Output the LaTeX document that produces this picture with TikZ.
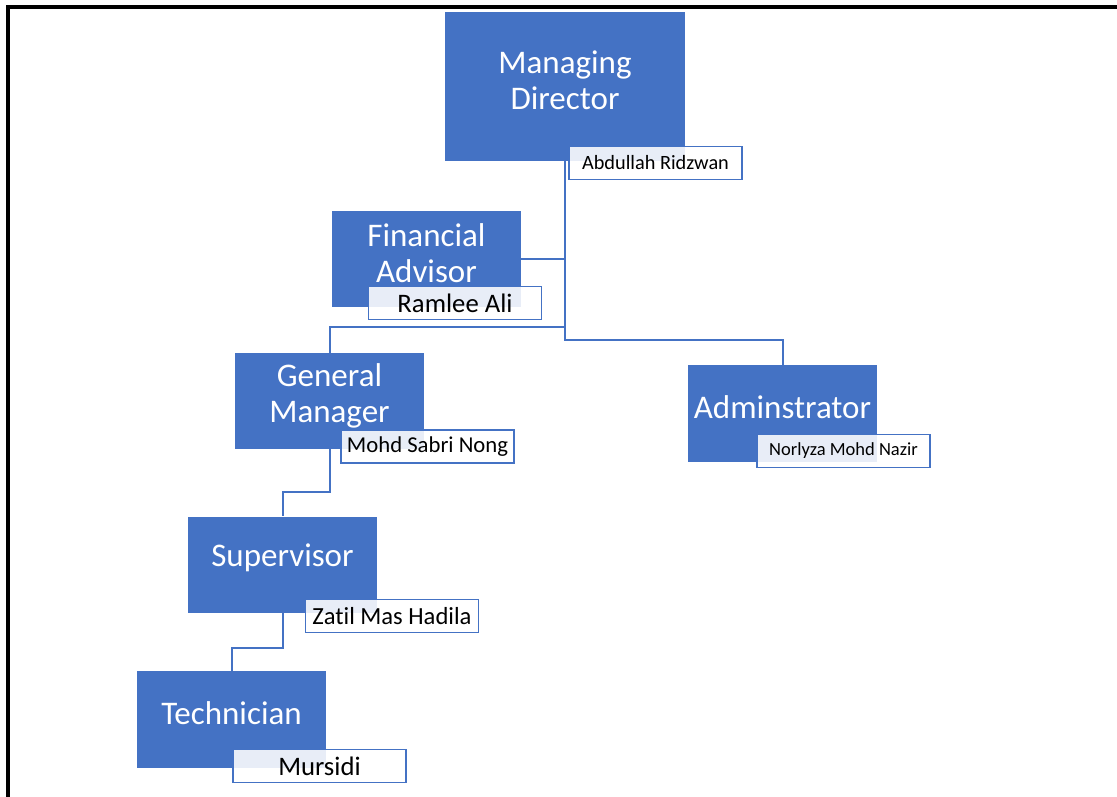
\documentclass[tikz,border=0pt]{standalone}
\usepackage{fontspec}
\setmainfont[Ligatures=NoCommon]{Carlito}
\definecolor{officeblue}{HTML}{4472C4}
\begin{document}
\begin{tikzpicture}[x=1pt,y=-1pt,
  role/.style={fill=officeblue, draw=none, inner sep=0pt},
  roletext/.style={text=white, align=center, inner sep=0pt, font=\fontsize{33}{36}\selectfont},
  namebox/.style={draw=officeblue, line width=1.6pt, fill=white, fill opacity=0.88,
    text opacity=1, text=black, inner sep=0pt, minimum width=173pt, minimum height=33pt},
  conn/.style={draw=officeblue, line width=2pt}]
\useasboundingbox (0,0) rectangle (1117,797);
\fill[white] (0,0) rectangle (1117,797);

% frame along the top and left edges
\draw[line width=4pt] (7.5,797) -- (7.5,7) -- (1117,7);

% position boxes
\node[role, minimum width=240pt, minimum height=149pt] (md)   at (565,86.5)  {};
\node[role, minimum width=189pt, minimum height=96pt]  (fa)   at (426.5,259) {};
\node[role, minimum width=189pt, minimum height=96pt]  (gm)   at (329.5,401) {};
\node[role, minimum width=189pt, minimum height=97pt]  (adm)  at (782.5,413.5) {};
\node[role, minimum width=189pt, minimum height=96pt]  (sup)  at (282.5,564.5) {};
\node[role, minimum width=189pt, minimum height=97pt]  (tech) at (231.5,719.5) {};

% position titles
\node[roletext] (mdt)   at (565,80)    {Managing\\Director};
\node[roletext] (fat)   at (426.5,253) {Financial\\Advisor};
\node[roletext] (gmt)   at (329.5,396) {General\\Manager};
\node[roletext] (admt)  at (782.5,407) {Adminstrator};
\node[roletext] (supt)  at (282.5,558) {Supervisor};
\node[roletext] (techt) at (231.5,713) {Technician};

% reporting lines
\coordinate (gmjoin) at (565,327);
\coordinate (trunkend) at (565,340);
\draw[conn] (md.south) -- (trunkend) -| (adm.north);
\draw[conn] (fa.east) -- (fa.east -| md.south);
\draw[conn] (gmjoin) -| (gm.north);
\draw[conn] (gm.south) -- ++(0,43) -| (sup.north);
\draw[conn] (sup.south) -- ++(0,35) -| (tech.north);

% name tags
\node[namebox, font=\fontsize{20.3}{24}\selectfont] (mdl)   at (655.5,163) {Abdullah Ridzwan};
\node[namebox, font=\fontsize{26.7}{30}\selectfont] (fal)   at (455,303)   {Ramlee Ali};
\node[namebox, font=\fontsize{22.7}{26}\selectfont] (gml)   at (427.5,446.5) {Mohd Sabri Nong};
\node[namebox, font=\fontsize{18.5}{22}\selectfont] (adml)  at (843.5,451) {Norlyza Mohd Nazir};
\node[namebox, font=\fontsize{24.6}{28}\selectfont] (supl)  at (392,616)   {Zatil Mas Hadila};
\node[namebox, font=\fontsize{26.7}{30}\selectfont] (techl) at (319.5,766) {Mursidi};
\end{tikzpicture}
\end{document}
